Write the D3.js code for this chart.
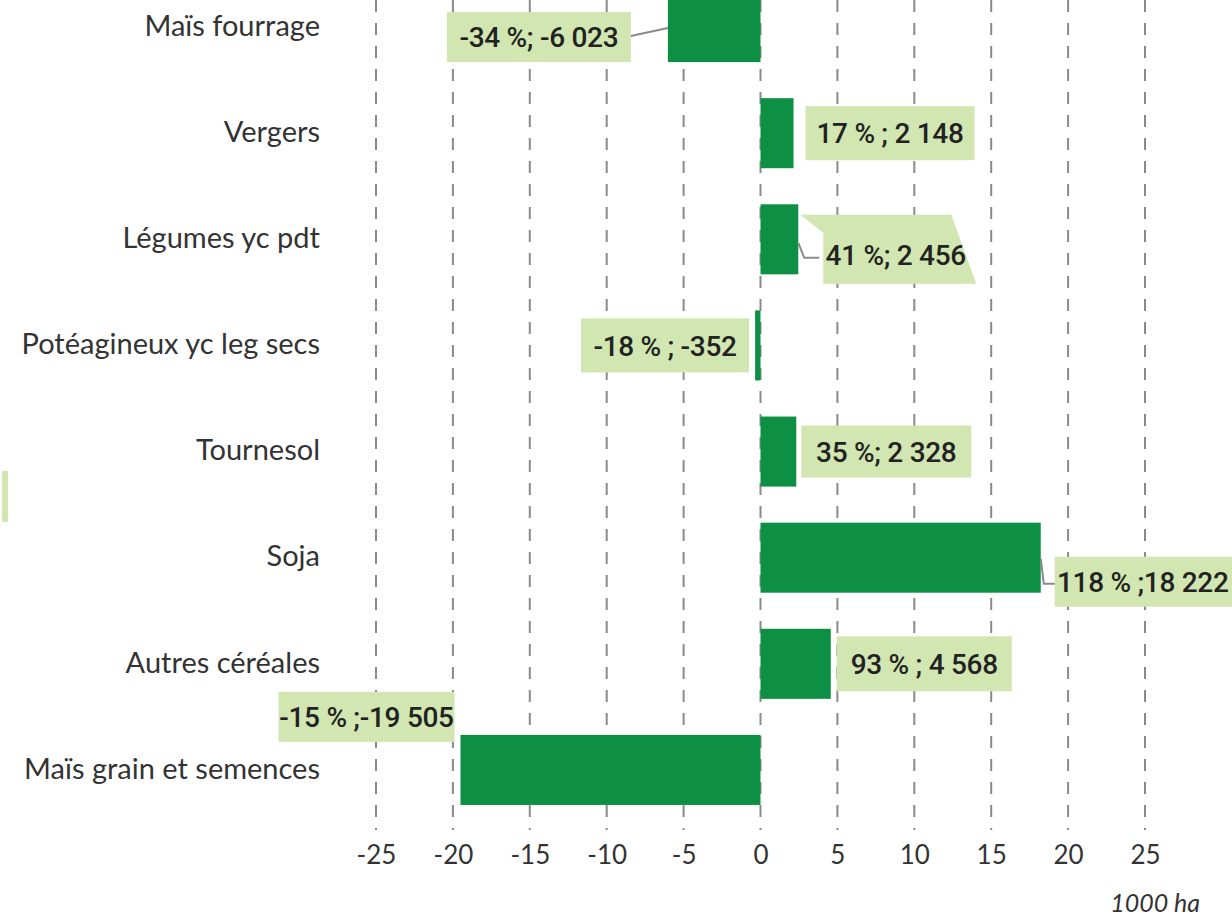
<!DOCTYPE html>
<html>
<head>
<meta charset="utf-8">
<script src="https://cdn.jsdelivr.net/npm/d3@7"></script>
<style>
  body { margin: 0; background: #fff; }
  svg { display: block; }
</style>
</head>
<body>
<svg></svg>
<script>
// data (1000 ha)
var categories = ["Maïs fourrage", "Vergers", "Légumes yc pdt", "Potéagineux yc leg secs",
                  "Tournesol", "Soja", "Autres céréales", "Maïs grain et semences"];
var values = [-6.023, 2.148, 2.456, -0.352, 2.328, 18.222, 4.568, -19.505];
var labels = ["-34 %; -6 023", "17 % ; 2 148", "41 %; 2 456", "-18 % ; -352",
              "35 %; 2 328", "118 % ;18 222", "93 % ; 4 568", "-15 % ;-19 505"];
var ticks = [-25, -20, -15, -10, -5, 0, 5, 10, 15, 20, 25];

// label box placement relative to bar end (px)
var boxLayout = [
  { dx: -221, dy: 10, w: 184, h: 50, leader: "fourrage" },
  { dx: 12, dy: 0, w: 169, h: 54 },
  { dx: 2, dy: 10, w: 176, h: 69, leader: "legumes" },
  { dx: -174, dy: 0, w: 168, h: 54 },
  { dx: 5, dy: 0, w: 170, h: 52 },
  { dx: 14, dy: 24, w: 190, h: 50, leader: "soja" },
  { dx: 6, dy: 0, w: 175, h: 55 },
  { dx: -182, dy: -53, w: 176, h: 50 }
];

var svg = d3.select("svg")
    .attr("width", 1232)
    .attr("height", 920);

var x = d3.scaleLinear().domain([-25, 25]).range([376, 1145]);
var y = d3.scaleBand().domain(categories).range([-26, 823])
    .paddingInner(0.34).paddingOuter(0.17);

var green = "#0e9044";
var boxFill = "#d1e6b1";

// grid
svg.append("g")
    .selectAll("line")
    .data(ticks)
    .enter().append("line")
    .attr("x1", function(d) { return x(d); })
    .attr("x2", function(d) { return x(d); })
    .attr("y1", 0)
    .attr("y2", 830)
    .attr("stroke", "#8a8a8a")
    .attr("stroke-width", 2)
    .attr("stroke-dasharray", "12,11");

// x axis labels
var xAxis = svg.append("g")
    .attr("transform", "translate(0,845)")
    .call(d3.axisBottom(x).tickValues(ticks).tickSize(0).tickPadding(0)
          .tickFormat(function(d) { return d < 0 ? "-" + Math.abs(d) : d; }));
xAxis.select(".domain").remove();
xAxis.selectAll("text")
    .attr("dy", "0.72em")
    .attr("font-family", "Lato, sans-serif")
    .attr("font-size", 26)
    .attr("fill", "#333");

svg.append("text")
    .attr("x", 1200)
    .attr("y", 912)
    .attr("text-anchor", "end")
    .attr("font-family", "Lato, sans-serif")
    .attr("font-style", "italic")
    .attr("font-size", 25)
    .attr("fill", "#333")
    .text("1000 ha");

// category labels
svg.append("g")
    .selectAll("text")
    .data(categories)
    .enter().append("text")
    .attr("x", 320)
    .attr("y", function(d) { return y(d) + y.bandwidth() / 2; })
    .attr("dy", "0.3em")
    .attr("text-anchor", "end")
    .attr("font-family", "Lato, sans-serif")
    .attr("font-size", 29)
    .attr("fill", "#333")
    .text(function(d) { return d; });

// bars
svg.append("g")
    .selectAll("rect")
    .data(values)
    .enter().append("rect")
    .attr("x", function(d) { return x(Math.min(0, d)); })
    .attr("width", function(d) { return Math.abs(x(d) - x(0)); })
    .attr("y", function(d, i) { return y(categories[i]); })
    .attr("height", y.bandwidth())
    .attr("fill", green);

// label boxes and leaders
var lbl = svg.append("g");
values.forEach(function(v, i) {
  var L = boxLayout[i];
  var end = x(v);
  var cy = y(categories[i]) + y.bandwidth() / 2 + L.dy;
  var bx = end + L.dx;
  var by = cy - L.h / 2;
  var tx = bx + L.w / 2;

  if (L.leader == "legumes") {
    var top = by, bot = by + L.h;
    lbl.append("polygon")
        .attr("points", [[bx, top], [bx + 151, top], [bx + L.w, bot], [bx + 23, bot], [bx + 23, top + 18]].join(" "))
        .attr("fill", boxFill);
    lbl.append("polyline")
        .attr("points", [[end, top + 28], [end + 6, top + 43], [bx + 19, top + 43]].join(" "))
        .attr("fill", "none").attr("stroke", "#8a8a8a").attr("stroke-width", 2);
    tx = bx + 23 + (L.w - 23) / 2 - 4;
    cy = top + 40;
  } else {
    lbl.append("rect")
        .attr("x", bx).attr("y", by)
        .attr("width", L.w).attr("height", L.h)
        .attr("fill", boxFill);
  }
  if (L.leader == "fourrage") {
    lbl.append("line")
        .attr("x1", bx + L.w).attr("y1", cy - 1)
        .attr("x2", end).attr("y2", cy - 9)
        .attr("stroke", "#8a8a8a").attr("stroke-width", 2);
  }
  if (L.leader == "soja") {
    lbl.append("polyline")
        .attr("points", [[end, cy - 23], [end + 3, cy + 2], [bx, cy + 2]].join(" "))
        .attr("fill", "none").attr("stroke", "#8a8a8a").attr("stroke-width", 2);
    tx = bx + 88;
  }
  lbl.append("text")
      .attr("x", tx)
      .attr("y", cy)
      .attr("dy", "0.36em")
      .attr("text-anchor", "middle")
      .attr("font-family", "Roboto, sans-serif")
      .attr("font-weight", 500)
      .attr("font-size", 28)
      .attr("letter-spacing", "-0.3")
      .attr("fill", "#222")
      .text(labels[i]);
});

// stray legend swatch at the left edge
svg.append("rect")
    .attr("x", 2).attr("y", 471)
    .attr("width", 6).attr("height", 51)
    .attr("fill", boxFill);
</script>
</body>
</html>
